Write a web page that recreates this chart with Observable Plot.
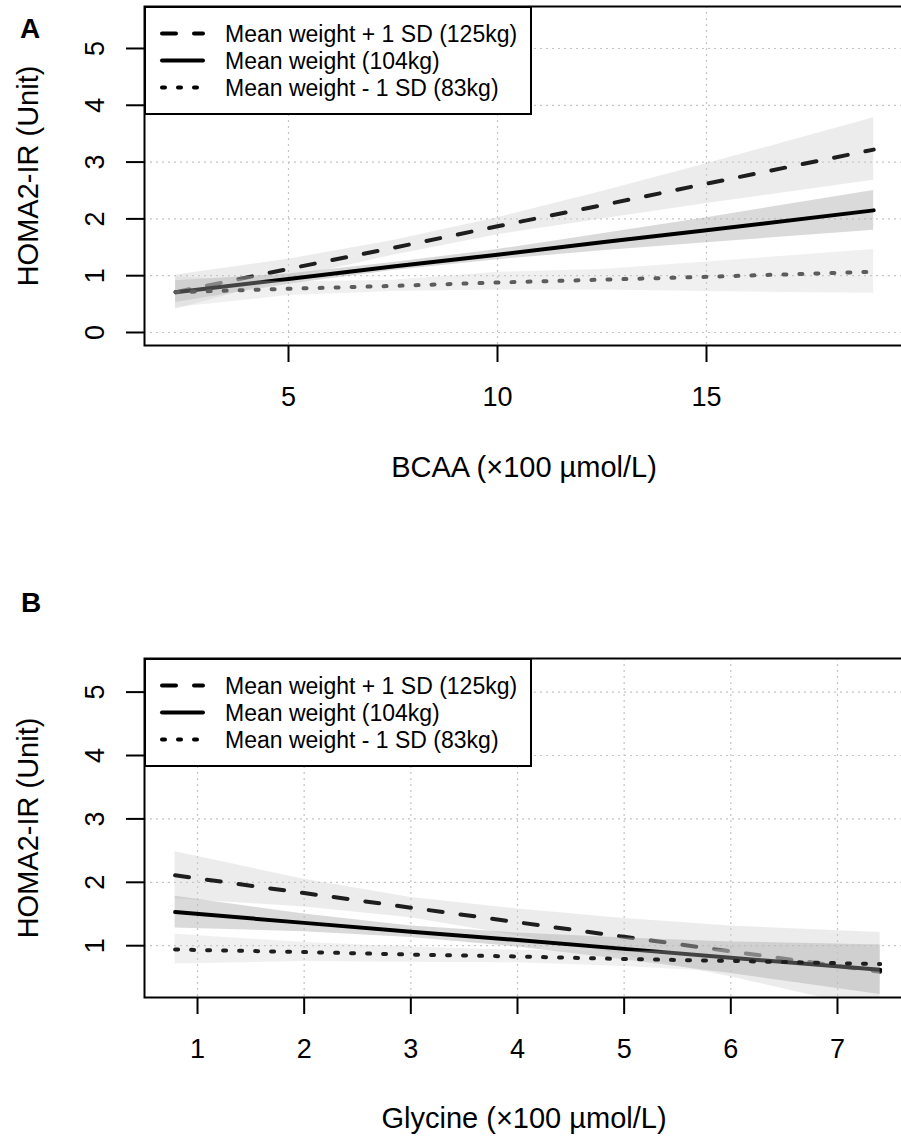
<!DOCTYPE html>
<html>
<head>
<meta charset="utf-8">
<script src="https://cdn.jsdelivr.net/npm/d3@7"></script>
<script src="https://cdn.jsdelivr.net/npm/@observablehq/plot@0.6"></script>
<style>
  html, body { margin: 0; padding: 0; background: #fff; overflow: hidden; }
  #wrap { position: relative; width: 901px; height: 1136px; overflow: hidden; font-family: "Liberation Sans", Arial, sans-serif; }
  .panel { position: absolute; left: 0; width: 901px; overflow: hidden; }
  .panel svg { display: block; max-width: none !important; }
  .letter { position: absolute; font-weight: bold; font-size: 28px; line-height: 1; color: #000; font-family: "Liberation Sans", Arial, sans-serif; }
  .legend { position: absolute; }
</style>
</head>
<body>
<div id="wrap">
  <div class="panel" id="panelA" style="top:0px;height:540px"></div>
  <div class="panel" id="panelB" style="top:540px;height:596px"></div>
  <div class="letter" style="left:20px;top:15px">A</div>
  <div class="letter" style="left:21px;top:589px">B</div>
</div>
<script>
// ---------- data ----------
const seriesLabels = ["Mean weight + 1 SD (125kg)", "Mean weight (104kg)", "Mean weight - 1 SD (83kg)"];
const yLabel = "HOMA2-IR (Unit)";

// Panel A: BCAA
const bcaaLabel = "BCAA (×100 µmol/L)";
const bcaaX = [2.3, 5, 7.5, 10, 12.5, 15, 19];
const bcaaPlus = [0.71, 1.12, 1.49, 1.87, 2.24, 2.62, 3.22];
const bcaaPlusLo = [0.41, 0.95, 1.36, 1.72, 2.00, 2.27, 2.68];
const bcaaPlusHi = [1.01, 1.29, 1.62, 2.02, 2.48, 2.97, 3.78];
const bcaaMean = [0.71, 0.94, 1.16, 1.37, 1.59, 1.80, 2.15];
const bcaaMeanLo = [0.53, 0.85, 1.09, 1.28, 1.44, 1.58, 1.80];
const bcaaMeanHi = [0.91, 1.03, 1.23, 1.46, 1.74, 2.02, 2.50];
const bcaaMinus = [0.71, 0.77, 0.82, 0.88, 0.93, 0.98, 1.07];
const bcaaMinusLo = [0.44, 0.65, 0.72, 0.75, 0.75, 0.72, 0.69];
const bcaaMinusHi = [0.98, 0.89, 0.92, 1.06, 1.11, 1.24, 1.46];
const bcaaXTicks = [5, 10, 15];
const bcaaYTicks = [0, 1, 2, 3, 4, 5];

// Panel B: Glycine
const glyLabel = "Glycine (×100 µmol/L)";
const glyX = [0.79, 2, 3, 4, 5, 6, 7.4];
const glyPlus = [2.11, 1.83, 1.60, 1.37, 1.14, 0.91, 0.59];
const glyPlusLo = [1.74, 1.61, 1.44, 1.16, 0.85, 0.51, -0.03];
const glyPlusHi = [2.48, 2.05, 1.76, 1.58, 1.43, 1.31, 1.21];
const glyMean = [1.53, 1.36, 1.22, 1.09, 0.95, 0.81, 0.62];
const glyMeanLo = [1.28, 1.22, 1.13, 0.98, 0.78, 0.56, 0.23];
const glyMeanHi = [1.78, 1.50, 1.31, 1.20, 1.12, 1.06, 1.01];
const glyMinus = [0.94, 0.90, 0.86, 0.83, 0.79, 0.76, 0.71];
const glyMinusLo = [0.71, 0.75, 0.74, 0.73, 0.67, 0.58, 0.41];
const glyMinusHi = [1.18, 1.05, 0.98, 0.93, 0.91, 0.94, 1.01];
const glyXTicks = [1, 2, 3, 4, 5, 6, 7];
const glyYTicks = [1, 2, 3, 4, 5];

// ---------- styles ----------
const dashPatterns = ["14,18", null, "3,13"];
const bandFill = ["#cfcfcf", "#b0b0b0", "#cfcfcf"];
const bandOpacity = [0.4, 0.47, 0.32];
const FONT = "Liberation Sans, Arial, sans-serif";

function makePanel(opt) {
  const gridStyle = {stroke: "#c4c4c4", strokeOpacity: 1, strokeWidth: 1.2, strokeDasharray: "2,4"};
  const marks = [
    Plot.gridX(opt.xTicks, gridStyle),
    Plot.gridY(opt.yTicks, gridStyle)
  ];
  opt.series.forEach((s, k) => {
    const rows = opt.x.map((v, i) => ({x: v, y: s.y[i], lo: s.lo[i], hi: s.hi[i]}));
    marks.push(Plot.areaY(rows, {x: "x", y1: "lo", y2: "hi", fill: bandFill[k], fillOpacity: bandOpacity[k], clip: true}));
    marks.push(Plot.lineY(rows, {x: "x", y: "y", stroke: s.color, strokeWidth: 4,
      strokeDasharray: dashPatterns[k] ?? undefined, strokeLinecap: "round", strokeLinejoin: "round", clip: true}));
  });
  marks.push(
    Plot.frame({stroke: "black", strokeWidth: 2}),
    Plot.axisX(opt.xTicks, {tickSize: 17, tickFormat: () => "", strokeWidth: 2, label: null}),
    Plot.axisY(opt.yTicks, {tickSize: 18, tickFormat: () => "", strokeWidth: 2, label: null}),
    Plot.text(opt.xTicks, {x: d => d, text: d => String(d), frameAnchor: "bottom", dy: 52, lineAnchor: "middle", fontSize: 27}),
    Plot.text(opt.yTicks, {y: d => d, text: d => String(d), frameAnchor: "left", dx: -49, rotate: -90, lineAnchor: "middle", textAnchor: "middle", fontSize: 27}),
    Plot.text([opt.xLabel], {text: d => d, frameAnchor: "bottom", dy: opt.xTitleDy, lineAnchor: "middle", fontSize: 29}),
    Plot.text([yLabel], {text: d => d, frameAnchor: "left", dx: -116, rotate: -90, lineAnchor: "middle", textAnchor: "middle", fontSize: 29})
  );
  return Plot.plot({
    width: 906,
    height: opt.height,
    marginLeft: 144,
    marginRight: 3,
    marginTop: opt.marginTop,
    marginBottom: opt.marginBottom,
    x: {domain: opt.xDomain},
    y: {domain: opt.yDomain},
    style: {fontFamily: FONT, color: "black", background: "white", overflow: "visible", maxWidth: "none"},
    marks
  });
}

function addLegend(container, top) {
  const w = 388, h = 109;
  const svg = d3.select(container).append("svg")
    .attr("class", "legend")
    .attr("width", w).attr("height", h)
    .style("position", "absolute").style("left", "144px").style("top", top + "px");
  svg.append("rect").attr("x", 1).attr("y", 1).attr("width", w - 2).attr("height", h - 2)
    .attr("fill", "white").attr("stroke", "black").attr("stroke-width", 2);
  const rowsY = [27.5, 54.5, 81.5];
  seriesLabels.forEach((lab, i) => {
    const ln = svg.append("line").attr("x1", 18).attr("x2", 59).attr("y1", rowsY[i]).attr("y2", rowsY[i])
      .attr("stroke", "black").attr("stroke-width", 4).attr("stroke-linecap", "round");
    if (dashPatterns[i]) ln.attr("stroke-dasharray", dashPatterns[i]);
    svg.append("text").attr("x", 81).attr("y", rowsY[i]).attr("dy", "0.36em")
      .attr("font-family", FONT).attr("font-size", 23).attr("fill", "black").text(lab);
  });
}

const plotA = makePanel({
  x: bcaaX,
  series: [
    {y: bcaaPlus, lo: bcaaPlusLo, hi: bcaaPlusHi, color: "#1e1e1e"},
    {y: bcaaMean, lo: bcaaMeanLo, hi: bcaaMeanHi, color: "#000000"},
    {y: bcaaMinus, lo: bcaaMinusLo, hi: bcaaMinusHi, color: "#5c5c5c"}
  ],
  xDomain: [1.555, 19.713], yDomain: [-0.229, 5.739],
  xTicks: bcaaXTicks, yTicks: bcaaYTicks, xLabel: bcaaLabel,
  height: 540, marginTop: 6, marginBottom: 195, xTitleDy: 122
});
document.getElementById("panelA").appendChild(plotA);
addLegend(document.getElementById("panelA"), 6);

const plotB = makePanel({
  x: glyX,
  series: [
    {y: glyPlus, lo: glyPlusLo, hi: glyPlusHi, color: "#1e1e1e"},
    {y: glyMean, lo: glyMeanLo, hi: glyMeanHi, color: "#000000"},
    {y: glyMinus, lo: glyMinusLo, hi: glyMinusHi, color: "#1e1e1e"}
  ],
  xDomain: [0.503, 7.619], yDomain: [0.183, 5.53],
  xTicks: glyXTicks, yTicks: glyYTicks, xLabel: glyLabel,
  height: 596, marginTop: 118, marginBottom: 139, xTitleDy: 121
});
document.getElementById("panelB").appendChild(plotB);
addLegend(document.getElementById("panelB"), 118);
</script>
</body>
</html>
